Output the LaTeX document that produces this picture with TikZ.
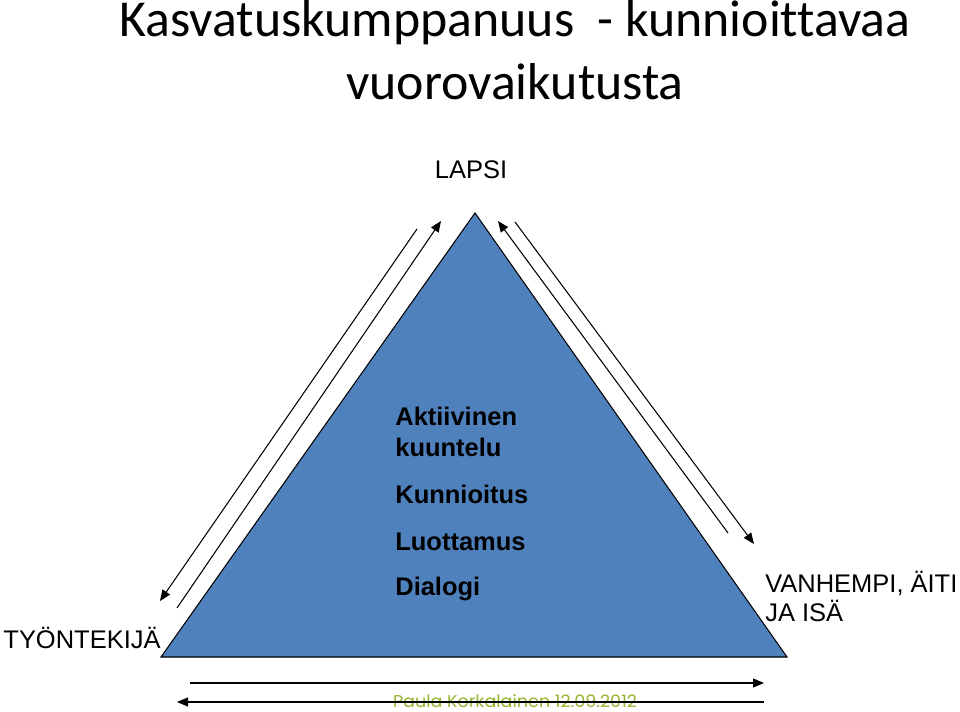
\documentclass[tikz,border=0pt]{standalone}
\usepackage{fontspec}
\setmainfont{Liberation Sans}
\newfontfamily\kktitlefont[RawFeature=-liga]{Carlito}
\newfontfamily\kkfootfont{Poppins}
\usepackage{xcolor}
\definecolor{kkblue}{HTML}{4F81BD}
\definecolor{kkfoot}{HTML}{94B52E}
\usepackage{tikz}
\usetikzlibrary{arrows.meta,positioning}
\tikzset{
  kkflow/.style={-{Triangle[length=2.2mm,width=1.8mm]},line width=0.6pt},
  kklabel/.style={font=\fontsize{14.5}{16.5}\selectfont,inner sep=0pt,align=left},
  kkvalue/.style={font=\bfseries\fontsize{14.5}{17.5}\selectfont,inner sep=0pt,anchor=west,align=left},
  kktitle/.style={font=\kktitlefont\fontsize{29.5}{35}\selectfont,inner sep=0pt,anchor=base},
}

\begin{document}
\begin{tikzpicture}[x=0.02cm,y=-0.02cm]
\useasboundingbox (0,0) rectangle (960,712);
 % title
\node[kktitle] (title1) at (515,37) {Kasvatuskumppanuus\ \ - kunnioittavaa};
\node[kktitle] (title2) at (515,100) {vuorovaikutusta};
 % triangle
\coordinate (apex) at (475,213);
\coordinate (left) at (161,657);
\coordinate (right) at (787,657);
\draw[fill=kkblue,line width=0.6pt] (apex) -- (left) -- (right) -- cycle;
\node[kklabel] (lapsi) at (471,170) {LAPSI};
\node[kklabel] (worker) at (82,638) {TYÖNTEKIJÄ};
\node[kklabel,anchor=west] (parents) at (765,596) {VANHEMPI, ÄITI\\JA ISÄ};
 % values inside
\node[kkvalue] (aktiivinen) at (395,432) {Aktiivinen\\kuuntelu};
\node[kkvalue] (kunnioitus) at (395,494) {Kunnioitus};
\node[kkvalue] (luottamus) at (395,542) {Luottamus};
\node[kkvalue] (dialogi) at (395,589) {Dialogi};
 % arrow ends
\coordinate (l1a) at (417,229); \coordinate (l1b) at (160,601);
\coordinate (l2a) at (177,608); \coordinate (l2b) at (441,221);
\coordinate (r1a) at (728,533); \coordinate (r1b) at (498,221);
\coordinate (r2a) at (515,222); \coordinate (r2b) at (754,544);
\coordinate (b1a) at (190,683); \coordinate (b1b) at (764,683);
\coordinate (b2a) at (764,702); \coordinate (b2b) at (177,702);
\draw[kkflow] (l1a) -- (l1b);
\draw[kkflow] (l2a) -- (l2b);
\draw[kkflow] (r1a) -- (r1b);
\draw[kkflow] (r2a) -- (r2b);
\draw[kkflow] (b1a) -- (b1b);
 % footer
\node[inner sep=0pt,text=kkfoot] (footer) at (515,701.5) {\resizebox{4.88cm}{0.26cm}{\kkfootfont Paula Korkalainen 12.09.2012}};
\draw[kkflow] (b2a) -- (b2b);
\end{tikzpicture}
\end{document}
